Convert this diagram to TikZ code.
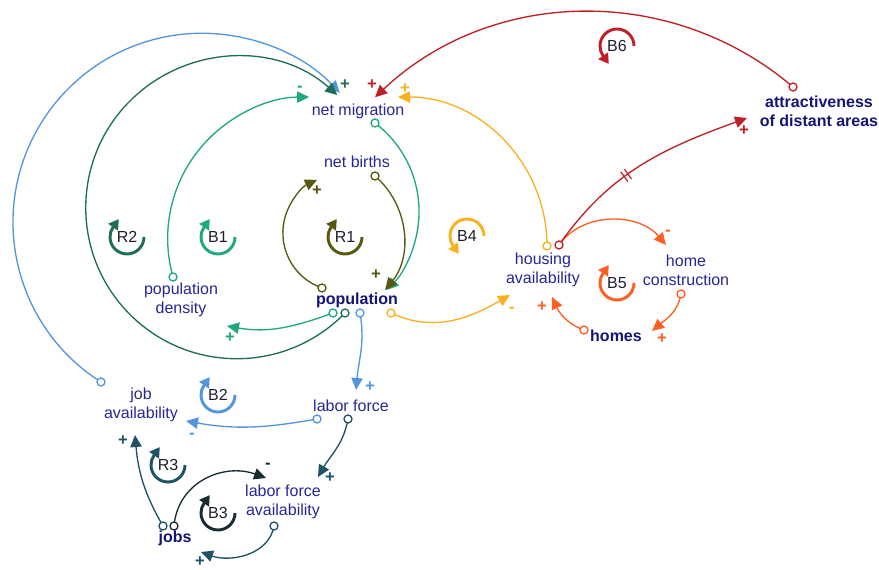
\documentclass[tikz,border=0pt]{standalone}
\usepackage{fontspec}
\setmainfont{Liberation Sans}
\usetikzlibrary{arrows.meta,calc,decorations.markings}
\definecolor{cDG}{RGB}{30,110,85}
\definecolor{cTL}{RGB}{32,168,128}
\definecolor{cOL}{RGB}{88,88,18}
\definecolor{cBL}{RGB}{84,150,222}
\definecolor{cOY}{RGB}{252,176,32}
\definecolor{cDR}{RGB}{190,32,38}
\definecolor{cOR}{RGB}{255,95,35}
\definecolor{cDT}{RGB}{30,82,102}
\definecolor{cDK}{RGB}{24,44,54}
\definecolor{cTX}{RGB}{38,38,150}
\definecolor{cTB}{RGB}{20,20,120}
\definecolor{cLB}{RGB}{30,30,50}
\tikzset{
  var/.style={font=\fontsize{12}{14.25}\selectfont, text=cTX, align=center, inner sep=0pt},
  stock/.style={font=\fontsize{12}{14.25}\selectfont\bfseries, text=cTB, align=center, inner sep=0pt},
  sgn/.style={font=\fontsize{12.5}{12.5}\selectfont\bfseries, inner sep=0pt},
  looplbl/.style={font=\fontsize{12}{12}\selectfont, text=cLB, inner sep=0pt},
  link/.style={line width=1pt, -{Triangle[length=9pt,width=8.5pt]}},
  lm/.style={line width=2.2pt, -{Triangle[length=7.5pt,width=8.5pt]}},
  port/.style={circle, draw, fill=white, line width=1pt, inner sep=0pt, minimum size=6pt},
}
\newcommand{\cwloop}[4]{%
  \node[looplbl] (#1) at (#2) {#4};
  \draw[lm,#3] ($(#1)+(0:17)$) arc[start angle=0,end angle=215,radius=17] -- ++(305:10);}
\newcommand{\ccwloop}[4]{%
  \node[looplbl] (#1) at (#2) {#4};
  \draw[lm,#3] ($(#1)+(0:17)$) arc[start angle=0,end angle=-215,radius=17] -- ++(55:10);}
\begin{document}
\begin{tikzpicture}[x=0.75pt,y=-0.75pt]
\useasboundingbox (0,0) rectangle (879,570);

% variables
\node[var] (netmig) at (358,111) {net migration};
\node[var] (netbirths) at (357,162) {net births};
\node[stock] (pop) at (357,300) {population};
\node[var] (popdens) at (181,300) {population\\density};
\node[var] (housing) at (543,270) {housing\\availability};
\node[var] (homecons) at (686,270) {home\\construction};
\node[stock] (homes) at (616,336) {homes};
\node[stock] (attract) at (819,111) {attractiveness\\of distant areas};
\node[var] (jobav) at (141,405) {job\\availability};
\node[var] (labor) at (351,406) {labor force};
\node[var] (lfa) at (283,502) {labor force\\availability};
\node[stock] (jobs) at (175,538) {jobs};

% ports
\coordinate (pJA) at (101,382);
\coordinate (pPopDG) at (345,313);
\coordinate (pPD) at (173,277);
\coordinate (pNM) at (375,123);
\coordinate (pNB) at (375,176);
\coordinate (pPopOL) at (322,288);
\coordinate (pPopTL) at (333,313);
\coordinate (pPopBL) at (360,313);
\coordinate (pPopOY) at (391,313);
\coordinate (pHAoy) at (547,246);
\coordinate (pHAdr) at (559,245);
\coordinate (pAT) at (793,87);
\coordinate (pHC) at (681,294);
\coordinate (pHO) at (584,330);
\coordinate (pLFbl) at (317,419);
\coordinate (pLFdt) at (348,419);
\coordinate (pJOa) at (163,526);
\coordinate (pJOb) at (174,526);
\coordinate (pLFA) at (274,526);

% targets
\coordinate (tPD) at (227,326);
\coordinate (tHA1) at (510,295);
\coordinate (tHA2) at (552,297);
\coordinate (tHC) at (666,245);
\coordinate (tHO) at (652,331);
\coordinate (tAT) at (747,118);
\coordinate (tLF) at (356,390);
\coordinate (tJA1) at (186,421);
\coordinate (tJA2) at (135,435);
\coordinate (tLFA1) at (318,477);
\coordinate (tLFA2) at (266,478);
\coordinate (tJO) at (201,552);

% links
\draw[link,cBL] (pJA) arc[start angle=122.3,end angle=316.8,radius=189];
\draw[link,cDG] (pPopDG) arc[start angle=44.2,end angle=311.7,radius=151];
\draw[link,cTL] (pPD) arc[start angle=164.2,end angle=270,radius=141.4];
\draw[link,cTL] (pNM) arc[start angle=307.1,end angle=405,radius=111];
\draw[link,cOL] (pNB) arc[start angle=310.8,end angle=399,radius=82.2];
\draw[link,cOL] (pPopOL) arc[start angle=109.2,end angle=245.5,radius=58.3];
\draw[link,cTL] (pPopTL) to[out=200,in=350] (tPD);
\draw[link,cOY] (pHAoy) arc[start angle=0,end angle=-90,radius=149];
\draw[link,cOY] (pPopOY) to[out=335,in=210] (tHA1);
\draw[link,cDR] (pAT) arc[start angle=-49.5,end angle=-133.3,radius=313];
\draw[link,cOR] (pHAdr) to[out=55,in=130] (tHC);
\draw[link,cDR,postaction={decorate,draw=none},
  decoration={markings,mark=at position 0.42 with {\draw[-,cDR,line width=0.9pt] (-1.7pt,-4.5pt)--(-1.7pt,4.5pt) (1.7pt,-4.5pt)--(1.7pt,4.5pt);}}]
  (pHAdr) to[out=55,in=200] (tAT);
\draw[link,cOR] (pHC) to[out=260,in=40] (tHO);
\draw[link,cOR] (pHO) to[out=160,in=295] (tHA2);
\draw[link,cBL] (pPopBL) to[out=280,in=85] (tLF);
\draw[link,cBL] (pLFbl) to[out=190,in=350] (tJA1);
\draw[link,cDT] (pLFdt) to[out=260,in=60] (tLFA1);
\draw[link,cDT] (pJOa) to[out=120,in=275] (tJA2);
\draw[link,cDK] (pJOb) to[out=85,in=160,looseness=1.1] (tLFA2);
\draw[link,cDT] (pLFA) to[out=260,in=340] (tJO);

% port circles
\node[port,draw=cBL] (cJA) at (pJA) {};
\node[port,draw=cDG] (cPopDG) at (pPopDG) {};
\node[port,draw=cTL] (cPD) at (pPD) {};
\node[port,draw=cTL] (cNM) at (pNM) {};
\node[port,draw=cOL] (cNB) at (pNB) {};
\node[port,draw=cOL] (cPopOL) at (pPopOL) {};
\node[port,draw=cTL] (cPopTL) at (pPopTL) {};
\node[port,draw=cBL] (cPopBL) at (pPopBL) {};
\node[port,draw=cOY] (cPopOY) at (pPopOY) {};
\node[port,draw=cOY] (cHAoy) at (pHAoy) {};
\node[port,draw=cDR] (cHAdr) at (pHAdr) {};
\node[port,draw=cDR] (cAT) at (pAT) {};
\node[port,draw=cOR] (cHC) at (pHC) {};
\node[port,draw=cOR] (cHO) at (pHO) {};
\node[port,draw=cBL] (cLFbl) at (pLFbl) {};
\node[port,draw=cDT] (cLFdt) at (pLFdt) {};
\node[port,draw=cDT] (cJOa) at (pJOa) {};
\node[port,draw=cDK] (cJOb) at (pJOb) {};
\node[port,draw=cDT] (cLFA) at (pLFA) {};

% signs
\node[sgn,text=cDG] (s1) at (345,85) {+};
\node[sgn,text=cDR] (s2) at (372,85) {+};
\node[sgn,text=cOY] (s3) at (405,89) {+};
\node[sgn,text=cTL] (s4) at (300,89) {-};
\node[sgn,text=cOL] (s5) at (376,275) {+};
\node[sgn,text=cOL] (s6) at (317,191) {+};
\node[sgn,text=cTL] (s7) at (230,338) {+};
\node[sgn,text=cOY] (s8) at (512,310) {-};
\node[sgn,text=cOR] (s9) at (542,307) {+};
\node[sgn,text=cOR] (s10) at (668,233) {-};
\node[sgn,text=cOR] (s11) at (662,339) {+};
\node[sgn,text=cDR] (s12) at (744,131) {+};
\node[sgn,text=cBL] (s13) at (370,387) {+};
\node[sgn,text=cBL] (s14) at (192,436) {-};
\node[sgn,text=cDT] (s15) at (123,441) {+};
\node[sgn,text=cDK] (s16) at (268,466) {-};
\node[sgn,text=cDT] (s17) at (330,478) {+};
\node[sgn,text=cDT] (s18) at (200,562) {+};

% loop markers
\cwloop{R2}{127,237}{cDG}{R2}
\cwloop{B1}{218,237}{cTL}{B1}
\cwloop{R1}{345,237}{cOL}{R1}
\ccwloop{B4}{467,236}{cOY}{B4}
\ccwloop{B6}{617,46}{cDR}{B6}
\cwloop{B5}{617,283}{cOR}{B5}
\cwloop{B2}{218,395}{cBL}{B2}
\cwloop{R3}{168,465}{cDT}{R3}
\cwloop{B3}{218,513}{cDK}{B3}
\end{tikzpicture}
\end{document}
